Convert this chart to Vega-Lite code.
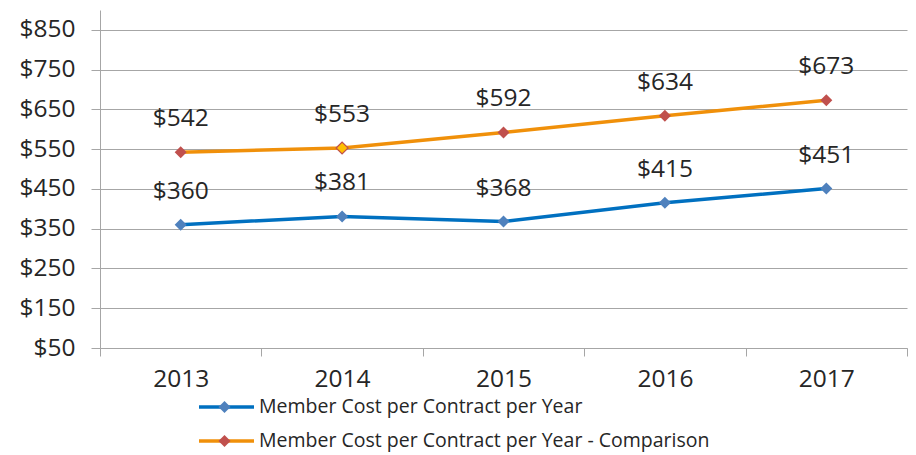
{
  "$schema": "https://vega.github.io/schema/vega-lite/v6.json",
  "width": 807,
  "height": 338,
  "autosize": {"type": "none"},
  "padding": {"left": 100, "top": 10, "right": 9, "bottom": 107},
  "background": "white",
  "config": {
    "font": "Open Sans",
    "view": {"stroke": null},
    "axis": {"labelColor": "#262626", "labelFont": "Open Sans"}
  },
  "data": {
    "values": [
      {"year": 2013, "series": "Member Cost per Contract per Year", "value": 360},
      {"year": 2014, "series": "Member Cost per Contract per Year", "value": 381},
      {"year": 2015, "series": "Member Cost per Contract per Year", "value": 368},
      {"year": 2016, "series": "Member Cost per Contract per Year", "value": 415},
      {"year": 2017, "series": "Member Cost per Contract per Year", "value": 451},
      {"year": 2013, "series": "Member Cost per Contract per Year - Comparison", "value": 542},
      {"year": 2014, "series": "Member Cost per Contract per Year - Comparison", "value": 553},
      {"year": 2015, "series": "Member Cost per Contract per Year - Comparison", "value": 592},
      {"year": 2016, "series": "Member Cost per Contract per Year - Comparison", "value": 634},
      {"year": 2017, "series": "Member Cost per Contract per Year - Comparison", "value": 673}
    ]
  },
  "encoding": {
    "x": {
      "field": "year", "type": "quantitative",
      "scale": {"domain": [2012.5, 2017.5], "nice": false, "zero": false},
      "axis": {
        "title": null,
        "values": [2012.5, 2013, 2013.5, 2014, 2014.5, 2015, 2015.5, 2016, 2016.5, 2017, 2017.5],
        "labelExpr": "datum.value % 1 == 0 ? format(datum.value, 'd') : ''",
        "tickOpacity": {"condition": {"test": "datum.value % 1 == 0", "value": 0}, "value": 1},
        "tickColor": "#a6a6a6",
        "tickSize": 8,
        "tickWidth": 1,
        "domainColor": "#a6a6a6",
        "domainWidth": 1,
        "grid": false,
        "labelFontSize": 24.5,
        "labelPadding": 11,
        "labelFlush": false,
        "labelOverlap": false
      }
    },
    "y": {
      "field": "value", "type": "quantitative",
      "scale": {"domain": [50, 900], "nice": false, "zero": false},
      "axis": {
        "title": null,
        "values": [50, 150, 250, 350, 450, 550, 650, 750, 850],
        "format": "$d",
        "grid": true,
        "gridColor": "#a6a6a6",
        "gridWidth": 1,
        "tickColor": "#a6a6a6",
        "tickSize": 9,
        "domainColor": "#a6a6a6",
        "domainWidth": 1,
        "labelFontSize": 24.5,
        "labelPadding": 16,
        "labelFlush": false,
        "labelOverlap": false
      }
    }
  },
  "layer": [
    {
      "mark": {"type": "line", "strokeWidth": 3.5},
      "encoding": {
        "stroke": {
          "field": "series", "type": "nominal",
          "scale": {
            "domain": ["Member Cost per Contract per Year", "Member Cost per Contract per Year - Comparison"],
            "range": ["#0070C0", "#F0900A"]
          },
          "legend": {
            "title": null,
            "orient": "none",
            "legendX": 97,
            "legendY": 380,
            "direction": "vertical",
            "symbolType": "stroke",
            "symbolSize": 3025,
            "symbolStrokeWidth": 3.5,
            "labelFontSize": 19.5,
            "labelColor": "#262626",
            "labelOffset": 3,
            "labelLimit": 700,
            "clipHeight": 34,
            "rowPadding": 0,
            "padding": 0
          }
        }
      }
    },
    {
      "mark": {"type": "point", "shape": "diamond", "size": 144, "filled": true, "opacity": 1},
      "encoding": {
        "fill": {
          "field": "series", "type": "nominal",
          "scale": {
            "range": ["#4F81BD", "#C0504D"]
          },
          "legend": {
            "title": null,
            "orient": "none",
            "legendX": 97,
            "legendY": 380,
            "direction": "vertical",
            "symbolType": "M0,-0.22L0.22,0L0,0.22L-0.22,0Z",
            "symbolSize": 3025,
            "symbolOpacity": 1,
            "symbolStrokeWidth": 0,
            "labelFontSize": 19.5,
            "labelExpr": "''",
            "labelOffset": 3,
            "labelLimit": 700,
            "clipHeight": 34,
            "rowPadding": 0,
            "padding": 0
          }
        }
      }
    },
    {
      "transform": [
        {"filter": "datum.year == 2014 && datum.series == 'Member Cost per Contract per Year - Comparison'"}
      ],
      "mark": {"type": "point", "shape": "diamond", "size": 144, "filled": true, "opacity": 1, "fill": "#FFC000", "stroke": "#C0504D", "strokeWidth": 1.2}
    },
    {
      "mark": {"type": "text", "dy": -33, "fontSize": 24.5, "color": "#262626", "baseline": "middle", "font": "Open Sans"},
      "encoding": {
        "text": {"field": "value", "type": "quantitative", "format": "$d"}
      }
    }
  ]
}
